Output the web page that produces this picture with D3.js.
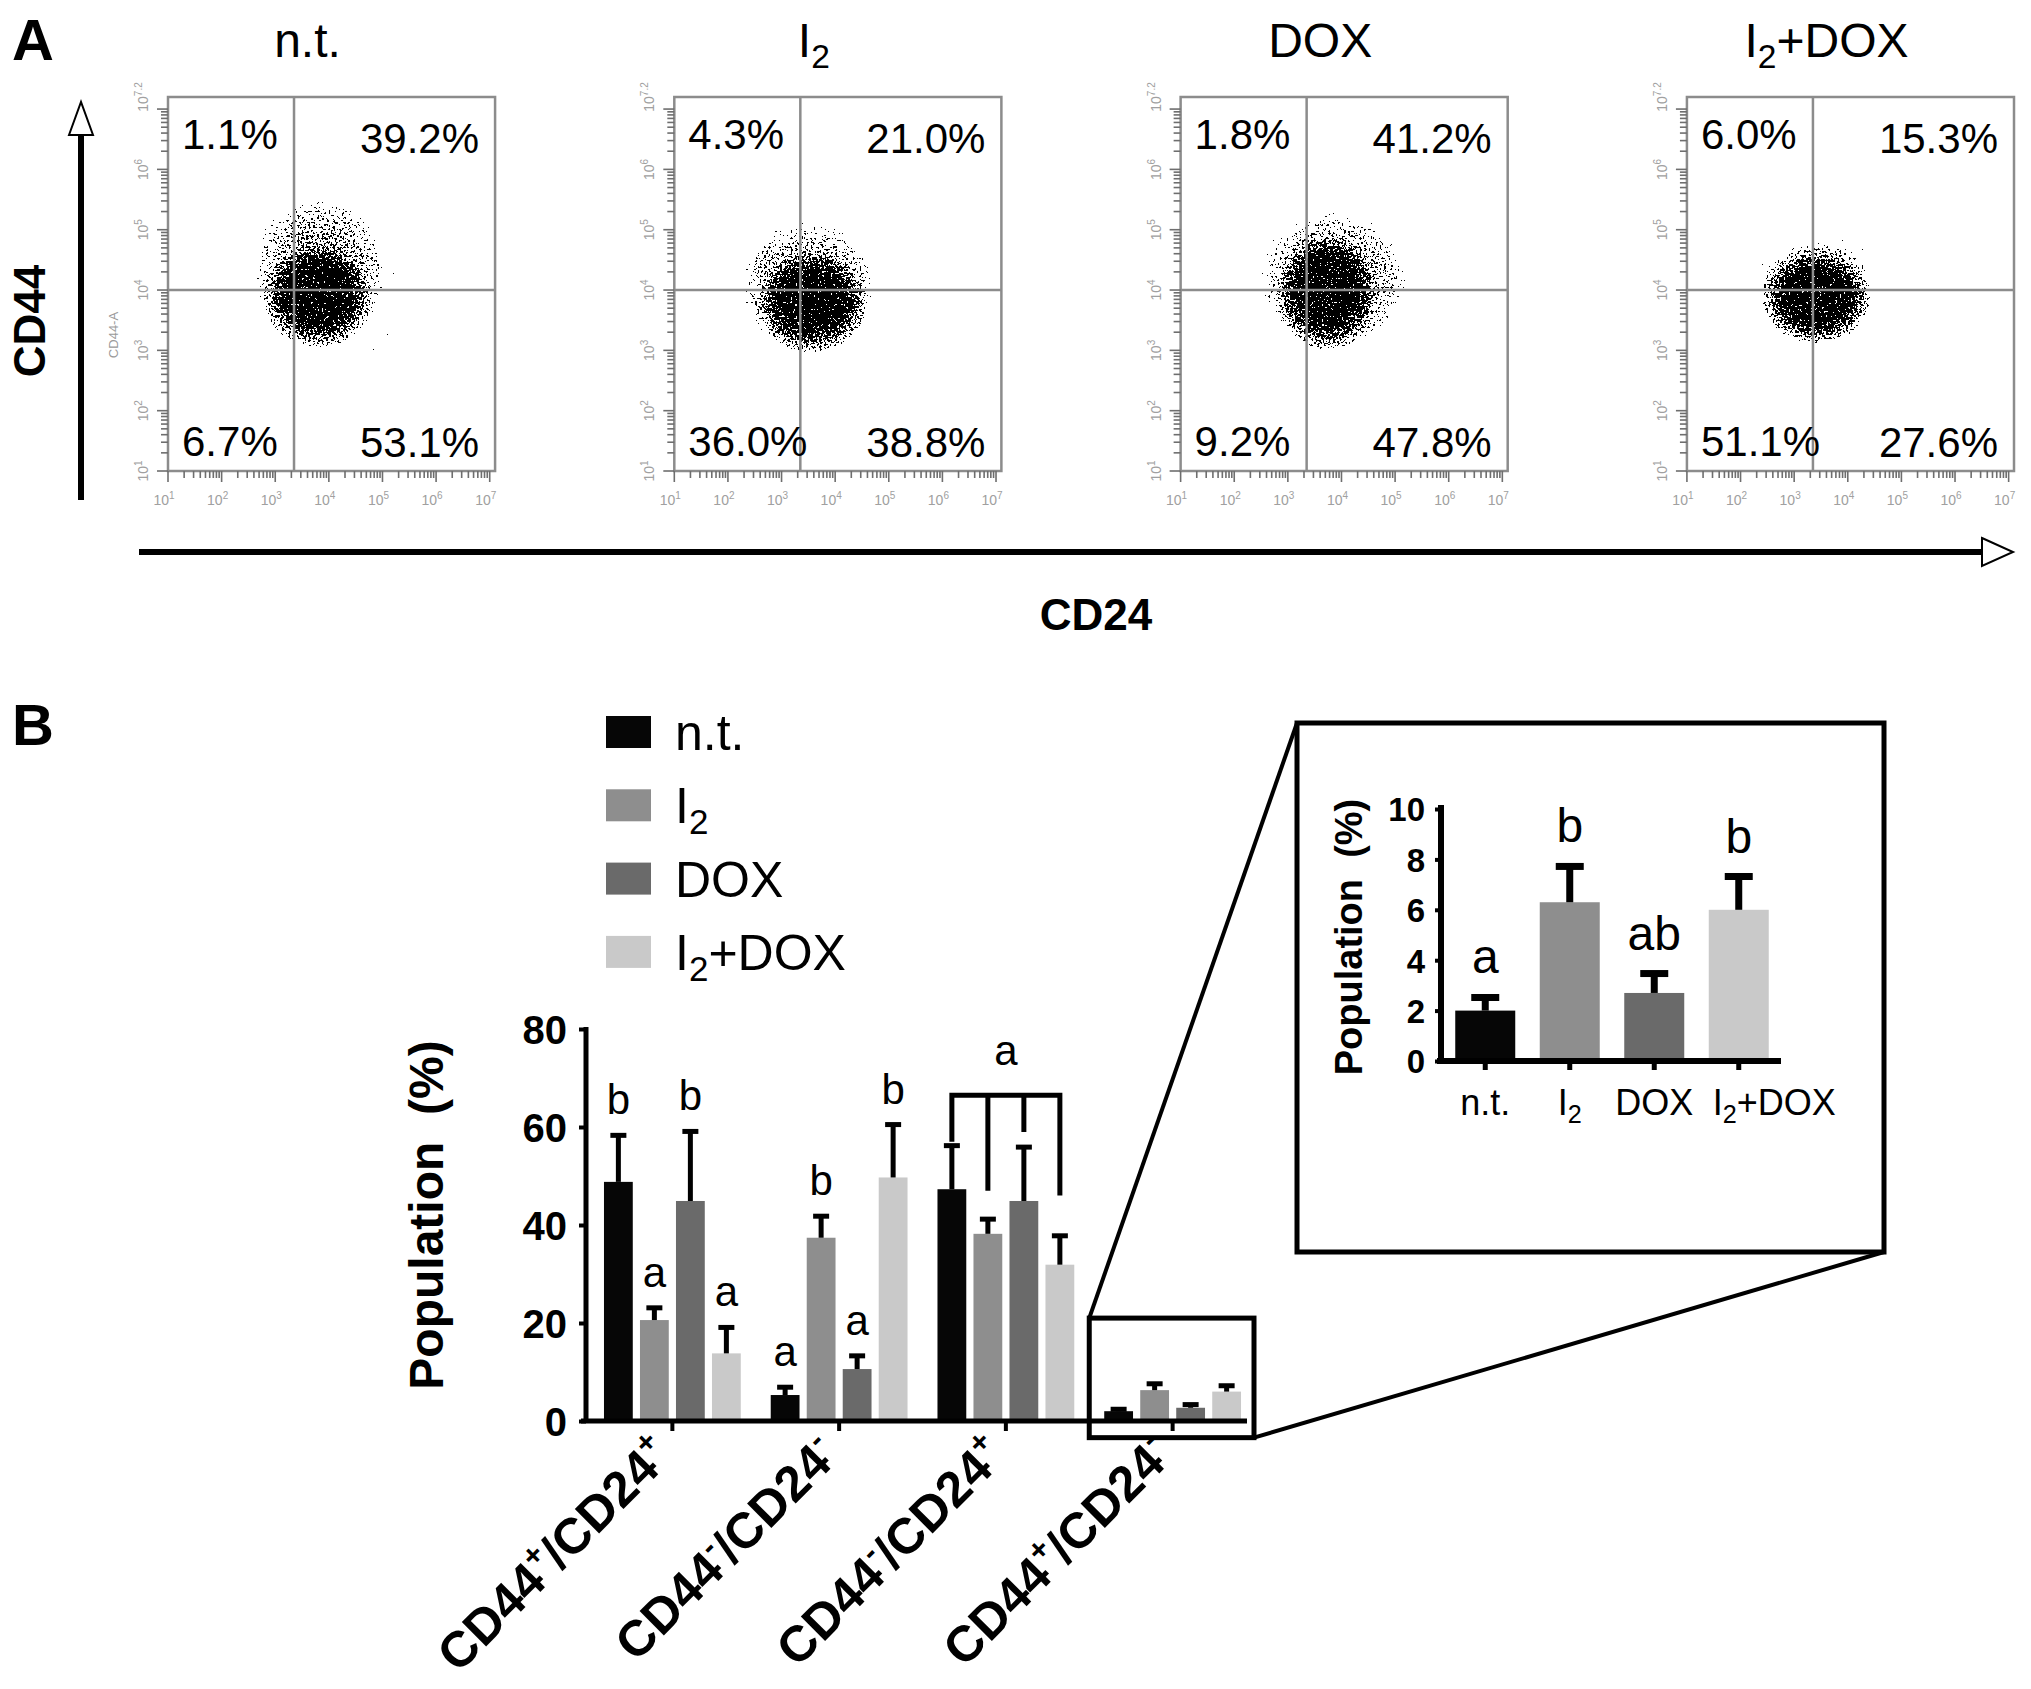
<!DOCTYPE html>
<html>
<head>
<meta charset="utf-8">
<script src="https://cdn.jsdelivr.net/npm/d3@7"></script>
<style>
  html, body { margin: 0; padding: 0; background: #fff; }
  svg { display: block; }
</style>
</head>
<body>
<script>
// ---------------- DATA ----------------
// Panel A: flow cytometry quadrant percentages
const flowGroups = ["n.t.", "I2", "DOX", "I2+DOX"];
const pctUpperLeft  = [1.1, 4.3, 1.8, 6.0];
const pctUpperRight = [39.2, 21.0, 41.2, 15.3];
const pctLowerLeft  = [6.7, 36.0, 9.2, 51.1];
const pctLowerRight = [53.1, 38.8, 47.8, 27.6];
// dense core of each dot cloud (log10 units)
const coreLogCD24 = [3.80, 3.56, 3.74, 3.41];
const coreLogCD44 = [3.95, 3.84, 4.00, 3.90];
const coreSpreadCD24 = [0.72, 0.72, 0.68, 0.70];
const coreSpreadCD44 = [0.62, 0.60, 0.68, 0.54];
// sparse halo of each dot cloud (log10 units)
const haloLogCD24 = [3.84, 3.50, 3.85, 3.43];
const haloLogCD44 = [4.30, 4.05, 4.17, 4.00];
const haloSpreadCD24 = [1.25, 1.27, 1.36, 1.08];
const haloSpreadCD44 = [1.24, 1.06, 1.11, 0.85];
const gateCD24 = 2240;   // quadrant gate
const gateCD44 = 10000;
const flowXTickExp = [1, 2, 3, 4, 5, 6, 7];
const flowYTickExp = [1, 2, 3, 4, 5, 6, 7.2];

// Panel B: population bars (mean and SD, %)
const barCategories = ["CD44+/CD24+", "CD44-/CD24-", "CD44-/CD24+", "CD44+/CD24-"];
const treatments = ["n.t.", "I2", "DOX", "I2+DOX"];
const meanNT    = [48.8, 5.3, 47.3, 2.0];
const sdNT      = [9.7, 1.8, 9.1, 0.6];
const meanI2    = [20.6, 37.4, 38.2, 6.3];
const sdI2      = [2.7, 4.6, 3.2, 1.5];
const meanDOX   = [44.9, 10.6, 44.9, 2.7];
const sdDOX     = [14.4, 2.9, 11.2, 0.85];
const meanI2DOX = [13.8, 49.7, 31.9, 6.0];
const sdI2DOX   = [5.5, 11.0, 6.1, 1.4];
const lettersNT    = ["b", "a", "", ""];
const lettersI2    = ["a", "b", "", ""];
const lettersDOX   = ["b", "a", "", ""];
const lettersI2DOX = ["a", "b", "", ""];
const bracketCategory = "CD44-/CD24+";
const bracketTop = 66.5;
const bracketEnds = [57, 47, 59, 46];
const bracketLetter = "a";
const insetCategory = "CD44+/CD24-";
const insetLetters = ["a", "b", "ab", "b"];
const mainYTicks = [0, 20, 40, 60, 80];
const insetYTicks = [0, 2, 4, 6, 8, 10];
const treatColors = ["#060606", "#8e8e8e", "#6a6a6a", "#c9c9c9"];

// ---------------- SETUP ----------------
const FONT = "'Liberation Sans', Arial, Helvetica, sans-serif";
const W = 2031, H = 1689;
const svg = d3.select("body").append("svg")
  .attr("width", W).attr("height", H)
  .style("font-family", FONT);
svg.append("rect").attr("width", W).attr("height", H).attr("fill", "#fff");

const means = [meanNT, meanI2, meanDOX, meanI2DOX];
const sds = [sdNT, sdI2, sdDOX, sdI2DOX];
const letters = [lettersNT, lettersI2, lettersDOX, lettersI2DOX];

// rich text helper: I2 -> subscript 2 ; CD44+ -> superscript +
function rich(textSel, str, fs) {
  const toks = [];
  for (let i = 0; i < str.length; i++) {
    const ch = str[i], p1 = str[i - 1] || "", p2 = str[i - 2] || "";
    let kind = "n";
    if (ch === "2" && p1 === "I") kind = "sub";
    else if ((ch === "+" || ch === "-") && /\d/.test(p1) && /\d/.test(p2)) kind = "sup";
    if (toks.length && toks[toks.length - 1].kind === kind && kind === "n") toks[toks.length - 1].t += ch;
    else toks.push({ t: ch, kind });
  }
  let cur = 0;
  toks.forEach(tk => {
    const target = tk.kind === "sub" ? fs * 0.22 : tk.kind === "sup" ? -fs * 0.42 : 0;
    const size = tk.kind === "sub" ? fs * 0.7 : tk.kind === "sup" ? fs * 0.62 : fs;
    const ts = textSel.append("tspan").text(tk.t).attr("font-size", size);
    if (target - cur !== 0) ts.attr("dy", target - cur);
    cur = target;
  });
  return textSel;
}

// ---------------- DEFS ----------------
const defs = svg.append("defs");
const coreGrad = defs.append("radialGradient").attr("id", "coreGrad");
[[0, 1], [0.55, 1], [0.75, 0.78], [0.9, 0.55], [1, 0.38]].forEach(([o, a]) =>
  coreGrad.append("stop").attr("offset", o).attr("stop-color", "#000").attr("stop-opacity", a));
const haloGrad = defs.append("radialGradient").attr("id", "haloGrad");
[[0, 0.7], [0.35, 0.62], [0.6, 0.52], [0.85, 0.4], [1, 0.1]].forEach(([o, a]) =>
  haloGrad.append("stop").attr("offset", o).attr("stop-color", "#000").attr("stop-opacity", a));
const filt = defs.append("filter").attr("id", "speckle")
  .attr("x", "-5%").attr("y", "-5%").attr("width", "110%").attr("height", "110%");
filt.append("feTurbulence").attr("type", "fractalNoise").attr("baseFrequency", 0.45)
  .attr("numOctaves", 2).attr("seed", 11).attr("result", "noise");
filt.append("feComposite").attr("in", "SourceAlpha").attr("in2", "noise")
  .attr("operator", "arithmetic").attr("k1", 0).attr("k2", 0.55).attr("k3", 1).attr("k4", -0.36)
  .attr("result", "mix");
const ct = filt.append("feComponentTransfer").attr("in", "mix").attr("result", "dots");
ct.append("feFuncA").attr("type", "discrete").attr("tableValues", "0 1");
filt.append("feColorMatrix").attr("in", "dots").attr("type", "matrix")
  .attr("values", "0 0 0 0 0  0 0 0 0 0  0 0 0 0 0  0 0 0 1 0").attr("result", "blk");
filt.append("feGaussianBlur").attr("in", "blk").attr("stdDeviation", 0.6);

// ---------------- PANEL A ----------------
svg.append("text").attr("x", 12).attr("y", 60).attr("font-size", 58).attr("font-weight", "bold").text("A");

const panelBand = d3.scaleBand().domain(flowGroups).range([168, 2014]).paddingInner(0.354);
const GRAY = "#8c8c8c";

flowGroups.forEach((name, i) => {
  const x0 = panelBand(name), bw = panelBand.bandwidth();
  const fx = d3.scaleLog().domain([10, 10 ** 7.1]).range([x0, x0 + bw]);
  const fy = d3.scaleLog().domain([10, 10 ** 7.2]).range([471, 97]);
  const g = svg.append("g");

  // title
  rich(g.append("text").attr("x", x0 + bw / 2 - 24).attr("y", 57).attr("text-anchor", "middle"), name, 48);

  // dot cloud: sparse halo then dense core
  const blob = (lx, ly, sx, sy, k, fill) => {
    const cx = fx(10 ** lx), cy = fy(10 ** ly);
    const rx = fx(10 ** (lx + k * sx)) - cx;
    const ry = cy - fy(10 ** (ly + k * sy));
    g.append("ellipse").attr("cx", cx).attr("cy", cy).attr("rx", rx).attr("ry", ry)
      .attr("fill", fill).attr("filter", "url(#speckle)");
  };
  blob(haloLogCD24[i], haloLogCD44[i], haloSpreadCD24[i], haloSpreadCD44[i], 1, "url(#haloGrad)");
  blob(coreLogCD24[i], coreLogCD44[i], coreSpreadCD24[i], coreSpreadCD44[i], 1.45, "url(#coreGrad)");

  // frame
  g.append("rect").attr("x", x0).attr("y", 97).attr("width", bw).attr("height", 471 - 97)
    .attr("fill", "none").attr("stroke", GRAY).attr("stroke-width", 2.5);
  // quadrant gates
  g.append("line").attr("x1", fx(gateCD24)).attr("x2", fx(gateCD24)).attr("y1", 97).attr("y2", 471)
    .attr("stroke", GRAY).attr("stroke-width", 2.5);
  g.append("line").attr("x1", x0).attr("x2", x0 + bw).attr("y1", fy(gateCD44)).attr("y2", fy(gateCD44))
    .attr("stroke", GRAY).attr("stroke-width", 2.5);

  // log ticks
  const isMajor = t => Math.abs(Math.log10(t) - Math.round(Math.log10(t))) < 1e-9;
  g.selectAll(".xt").data(fx.ticks()).join("line")
    .attr("x1", d => fx(d)).attr("x2", d => fx(d))
    .attr("y1", 471).attr("y2", d => 471 + (isMajor(d) ? 11 : 7))
    .attr("stroke", "#6e6e6e").attr("stroke-width", 1.6);
  g.selectAll(".yt").data(fy.ticks()).join("line")
    .attr("y1", d => fy(d)).attr("y2", d => fy(d))
    .attr("x1", x0).attr("x2", d => x0 - (isMajor(d) ? 11 : 7))
    .attr("stroke", "#6e6e6e").attr("stroke-width", 1.6);
  // tick labels
  g.selectAll(".xl").data(flowXTickExp).join("text")
    .attr("x", d => fx(10 ** d) - 4).attr("y", 505).attr("text-anchor", "middle")
    .attr("fill", "#a0a0a0").attr("font-size", 14)
    .each(function (d) {
      d3.select(this).append("tspan").text("10");
      d3.select(this).append("tspan").text(d).attr("font-size", 10).attr("dy", -6);
    });
  g.selectAll(".yl").data(flowYTickExp).join("text")
    .attr("transform", d => `translate(${x0 - 20},${fy(10 ** d)}) rotate(-90)`)
    .attr("text-anchor", "middle").attr("fill", "#a0a0a0").attr("font-size", 14)
    .each(function (d) {
      d3.select(this).append("tspan").text("10");
      d3.select(this).append("tspan").text(d).attr("font-size", 10).attr("dy", -6);
    });
  if (i === 0) {
    g.append("text").attr("transform", `translate(${x0 - 50},335) rotate(-90)`)
      .attr("text-anchor", "middle").attr("font-size", 13).attr("fill", "#9a9a9a").text("CD44-A");
  }

  // quadrant percentages
  const fs = 42;
  g.append("text").attr("x", x0 + 14).attr("y", 149).attr("font-size", fs).text(pctUpperLeft[i].toFixed(1) + "%");
  g.append("text").attr("x", x0 + bw - 16).attr("y", 153).attr("font-size", fs).attr("text-anchor", "end").text(pctUpperRight[i].toFixed(1) + "%");
  g.append("text").attr("x", x0 + 14).attr("y", 456).attr("font-size", fs).text(pctLowerLeft[i].toFixed(1) + "%");
  g.append("text").attr("x", x0 + bw - 16).attr("y", 457).attr("font-size", fs).attr("text-anchor", "end").text(pctLowerRight[i].toFixed(1) + "%");
});

// axis arrows
svg.append("line").attr("x1", 81).attr("x2", 81).attr("y1", 500).attr("y2", 134)
  .attr("stroke", "#000").attr("stroke-width", 6);
svg.append("path").attr("d", "M69,135 L81,102 L93,135 Z").attr("fill", "#fff").attr("stroke", "#000").attr("stroke-width", 2);
svg.append("line").attr("x1", 139).attr("x2", 1983).attr("y1", 552).attr("y2", 552)
  .attr("stroke", "#000").attr("stroke-width", 6);
svg.append("path").attr("d", "M1982,538 L2013,552 L1982,566 Z").attr("fill", "#fff").attr("stroke", "#000").attr("stroke-width", 2);
svg.append("text").attr("transform", "translate(45,321) rotate(-90)").attr("text-anchor", "middle")
  .attr("font-size", 44).attr("font-weight", "bold").text("CD44");
svg.append("text").attr("x", 1096).attr("y", 630).attr("text-anchor", "middle")
  .attr("font-size", 44).attr("font-weight", "bold").text("CD24");

// ---------------- PANEL B ----------------
svg.append("text").attr("x", 12).attr("y", 745).attr("font-size", 58).attr("font-weight", "bold").text("B");

// legend
treatments.forEach((t, i) => {
  const top = 716 + i * 73.3;
  svg.append("rect").attr("x", 606).attr("y", top).attr("width", 45).attr("height", 32).attr("fill", treatColors[i]);
  rich(svg.append("text").attr("x", 675).attr("y", top + 34), t, 50);
});

// main chart scales
const x0 = d3.scaleBand().domain(barCategories).range([589, 1256]);
const x1 = d3.scaleBand().domain(treatments).range([-72, 72]).paddingInner(0.2).paddingOuter(0.1);
const y = d3.scaleLinear().domain([0, 80]).range([1421, 1029]);
const mainG = svg.append("g");

// bars
barCategories.forEach((cat, ci) => {
  treatments.forEach((t, ti) => {
    const bx = x0(cat) + x0.bandwidth() / 2 + x1(t);
    const m = means[ti][ci], s = sds[ti][ci];
    const cxb = bx + x1.bandwidth() / 2;
    mainG.append("rect").attr("x", bx).attr("y", y(m)).attr("width", x1.bandwidth())
      .attr("height", y(0) - y(m)).attr("fill", treatColors[ti]);
    mainG.append("line").attr("x1", cxb).attr("x2", cxb).attr("y1", y(m)).attr("y2", y(m + s))
      .attr("stroke", "#000").attr("stroke-width", 5);
    mainG.append("line").attr("x1", cxb - 8).attr("x2", cxb + 8).attr("y1", y(m + s) + 1).attr("y2", y(m + s) + 1)
      .attr("stroke", "#000").attr("stroke-width", 5);
    const L = letters[ti][ci];
    if (L) mainG.append("text").attr("x", cxb).attr("y", y(m + s) - 20).attr("text-anchor", "middle")
      .attr("font-size", 42).text(L);
  });
});

// bracket over group 3
{
  const cx = t => x0(bracketCategory) + x0.bandwidth() / 2 + x1(t) + x1.bandwidth() / 2;
  const xs = treatments.map(cx);
  let d = `M${xs[0]},${y(bracketEnds[0])} V${y(bracketTop)} H${xs[3]} V${y(bracketEnds[3])}`;
  d += ` M${xs[1]},${y(bracketTop)} V${y(bracketEnds[1])} M${xs[2]},${y(bracketTop)} V${y(bracketEnds[2])}`;
  mainG.append("path").attr("d", d).attr("fill", "none").attr("stroke", "#000").attr("stroke-width", 5);
  mainG.append("text").attr("x", (xs[0] + xs[3]) / 2).attr("y", y(bracketTop) - 30)
    .attr("text-anchor", "middle").attr("font-size", 42).text(bracketLetter);
}

// axes
const yAxis = d3.axisLeft(y).tickValues(mainYTicks).tickSize(7).tickSizeOuter(0).tickPadding(12);
const yAx = svg.append("g").attr("transform", "translate(586,0)").call(yAxis);
yAx.select(".domain").attr("stroke-width", 5).attr("d", `M0,${y(80) - 2}V${y(0) + 2}`);
yAx.selectAll(".tick line").attr("stroke-width", 4);
yAx.selectAll(".tick text").attr("font-size", 40).attr("font-weight", "bold").attr("font-family", FONT).attr("dy", "0.36em");

const xAxis = d3.axisBottom(x0).tickSize(10).tickSizeOuter(0).tickFormat("");
const xAx = svg.append("g").attr("transform", `translate(0,${y(0)})`).call(xAxis);
xAx.select(".domain").attr("stroke-width", 5).attr("d", "M581,0H1247");
xAx.selectAll(".tick line").attr("stroke-width", 4);

// category labels
barCategories.forEach(cat => {
  const c = x0(cat) + x0.bandwidth() / 2;
  rich(svg.append("text").attr("transform", `translate(${c + 2},1458) rotate(-45)`)
    .attr("text-anchor", "end").attr("font-size", 50).attr("font-weight", "bold"), cat, 50);
});

svg.append("text").attr("transform", "translate(443,1215) rotate(-90)").attr("text-anchor", "middle")
  .attr("font-size", 48).attr("font-weight", "bold").style("white-space", "pre").text("Population  (%)");

// zoom box + connector lines
const zb = { x0: x0(insetCategory), x1: x0(insetCategory) + x0.bandwidth() - 2, y0: y(21), y1: y(-3.4) };
const big = { x0: 1297, y0: 723, x1: 1884, y1: 1252 };
svg.append("rect").attr("x", zb.x0).attr("y", zb.y0).attr("width", zb.x1 - zb.x0).attr("height", zb.y1 - zb.y0)
  .attr("fill", "none").attr("stroke", "#000").attr("stroke-width", 5);
svg.append("line").attr("x1", zb.x0).attr("y1", zb.y0).attr("x2", big.x0).attr("y2", big.y0)
  .attr("stroke", "#000").attr("stroke-width", 4);
svg.append("line").attr("x1", zb.x1).attr("y1", zb.y1).attr("x2", big.x1).attr("y2", big.y1)
  .attr("stroke", "#000").attr("stroke-width", 4);
svg.append("rect").attr("x", big.x0).attr("y", big.y0).attr("width", big.x1 - big.x0).attr("height", big.y1 - big.y0)
  .attr("fill", "#fff").attr("stroke", "#000").attr("stroke-width", 5);

// ---------------- INSET ----------------
const ci = barCategories.indexOf(insetCategory);
const xi = d3.scaleBand().domain(treatments).range([1443, 1781]).paddingInner(0.29).paddingOuter(0.145);
const yi = d3.scaleLinear().domain([0, 10]).range([1061, 809]);
const inG = svg.append("g");
treatments.forEach((t, ti) => {
  const m = means[ti][ci], s = sds[ti][ci];
  const bx = xi(t), cxb = bx + xi.bandwidth() / 2;
  inG.append("rect").attr("x", bx).attr("y", yi(m)).attr("width", xi.bandwidth())
    .attr("height", yi(0) - yi(m)).attr("fill", treatColors[ti]);
  inG.append("line").attr("x1", cxb).attr("x2", cxb).attr("y1", yi(m)).attr("y2", yi(m + s))
    .attr("stroke", "#000").attr("stroke-width", 7);
  inG.append("line").attr("x1", cxb - 14).attr("x2", cxb + 14).attr("y1", yi(m + s) + 2).attr("y2", yi(m + s) + 2)
    .attr("stroke", "#000").attr("stroke-width", 7);
  inG.append("text").attr("x", cxb).attr("y", yi(m + s) - 22).attr("text-anchor", "middle")
    .attr("font-size", 48).text(insetLetters[ti]);
  const last = ti === treatments.length - 1;
  rich(inG.append("text").attr("x", last ? bx + 4 : cxb).attr("y", 1115)
    .attr("text-anchor", last ? "start" : "middle"), t, 36);
});
const yiAx = svg.append("g").attr("transform", "translate(1441,0)")
  .call(d3.axisLeft(yi).tickValues(insetYTicks).tickSize(6).tickSizeOuter(0).tickPadding(10));
yiAx.select(".domain").attr("stroke-width", 6).attr("d", `M0,${yi(10) - 4}V${yi(0) + 3}`);
yiAx.selectAll(".tick line").attr("stroke-width", 4);
yiAx.selectAll(".tick text").attr("font-size", 33).attr("font-weight", "bold").attr("font-family", FONT).attr("dy", "0.36em");
const xiAx = svg.append("g").attr("transform", `translate(0,${yi(0)})`)
  .call(d3.axisBottom(xi).tickSize(9).tickSizeOuter(0).tickFormat(""));
xiAx.select(".domain").attr("stroke-width", 6).attr("d", "M1437,0H1781");
xiAx.selectAll(".tick line").attr("stroke-width", 5);
svg.append("text").attr("transform", "translate(1362,937) rotate(-90)").attr("text-anchor", "middle")
  .attr("font-size", 38).attr("font-weight", "bold").style("white-space", "pre").text("Population  (%)");
</script>
</body>
</html>
